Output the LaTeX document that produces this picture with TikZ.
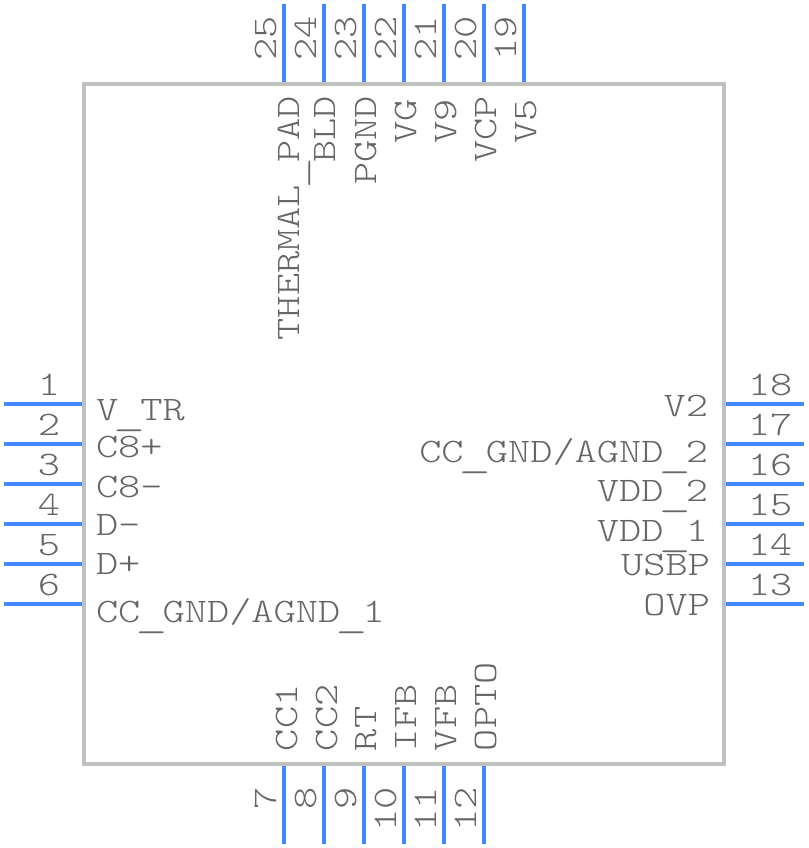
\documentclass[tikz,border=0pt]{standalone}
\usepackage{fontspec}
\newfontfamily\pinfont[FakeStretch=1.23]{Latin Modern Mono Light}
\newfontfamily\barfont[FakeStretch=1.78]{Latin Modern Mono Light}
\definecolor{pinblue}{HTML}{4488FF}
\definecolor{bodygray}{HTML}{C0C0C0}
\definecolor{txtgray}{HTML}{666666}
\newcommand{\lowbar}{\makebox[22.2pt][c]{\raisebox{-5.5pt}{\barfont\_}}}
\tikzset{
  pinline/.style={draw=pinblue,line width=4pt},
  chipbody/.style={draw=bodygray,line width=4pt,fill=white,outer sep=0pt},
  lbl/.style={font=\fontsize{34.4pt}{36pt}\pinfont,text=txtgray,inner sep=0pt,outer sep=0pt},
  lw/.style={lbl,anchor=base west},
  le/.style={lbl,anchor=base east},
  rotend/.style={lbl,anchor=base east,rotate=90},
  rotstart/.style={lbl,anchor=base west,rotate=90}
}
\begin{document}
\begin{tikzpicture}[x=1pt,y=-1pt]
\useasboundingbox (0,0) rectangle (808,848);
% left pins
\foreach \n/\y in {1/404,2/444,3/484,4/524,5/564,6/604}{
  \coordinate (pa\n) at (84,\y); \coordinate (pb\n) at (4,\y);
  \draw[pinline] (pa\n) -- (pb\n);
  \node[le] (num\n) at (60,\y-9) {\n};
}
% right pins
\foreach \n/\y in {18/404,17/444,16/484,15/524,14/564,13/604}{
  \coordinate (pa\n) at (724,\y); \coordinate (pb\n) at (804,\y);
  \draw[pinline] (pa\n) -- (pb\n);
  \node[lw] (num\n) at (748,\y-9) {\n};
}
% top pins
\foreach \n/\x in {25/284,24/324,23/364,22/404,21/444,20/484,19/524}{
  \coordinate (pa\n) at (\x,84); \coordinate (pb\n) at (\x,4);
  \draw[pinline] (pa\n) -- (pb\n);
  \node[rotend] (num\n) at (\x-8,16) {\n};
}
% bottom pins
\foreach \n/\x in {7/284,8/324,9/364,10/404,11/444,12/484}{
  \coordinate (pa\n) at (\x,764); \coordinate (pb\n) at (\x,844);
  \draw[pinline] (pa\n) -- (pb\n);
  \node[rotend] (num\n) at (\x-8,787) {\n};
}
\node[chipbody,minimum width=640pt,minimum height=680pt,inner sep=0pt,anchor=north west] (chip) at (84,84) {};
% left labels
\node[lw] (l1) at (96,420) {V\lowbar TR};
\node[lw] (l2) at (96,457) {C8+};
\node[lw] (l3) at (96,497) {C8-};
\node[lw] (l4) at (96,535) {D-};
\node[lw] (l5) at (96,574) {D+};
\node[lw] (l6) at (96,622) {CC\lowbar GND/AGND\lowbar 1};
% right labels
\node[le] (l18) at (708,416) {V2};
\node[le] (l17) at (708,462) {CC\lowbar GND/AGND\lowbar 2};
\node[le] (l16) at (708,501) {VDD\lowbar 2};
\node[le] (l15) at (708,541) {VDD\lowbar 1};
\node[le] (l14) at (710,575) {USBP};
\node[le] (l13) at (710,615) {OVP};
% top labels
\node[rotend] (l25) at (299,96) {THERMAL\lowbar PAD};
\node[rotend] (l24) at (335,96) {BLD};
\node[rotend] (l23) at (376,96) {PGND};
\node[rotend] (l22) at (416,99) {VG};
\node[rotend] (l21) at (456,99) {V9};
\node[rotend] (l20) at (496,96) {VCP};
\node[rotend] (l19) at (536,99) {V5};
% bottom labels
\node[rotstart] (l7) at (297,751) {CC1};
\node[rotstart] (l8) at (337,751) {CC2};
\node[rotstart] (l9) at (376,751) {RT};
\node[rotstart] (l10) at (416,751) {IFB};
\node[rotstart] (l11) at (456,751) {VFB};
\node[rotstart] (l12) at (496,751) {OPTO};
\end{tikzpicture}
\end{document}
